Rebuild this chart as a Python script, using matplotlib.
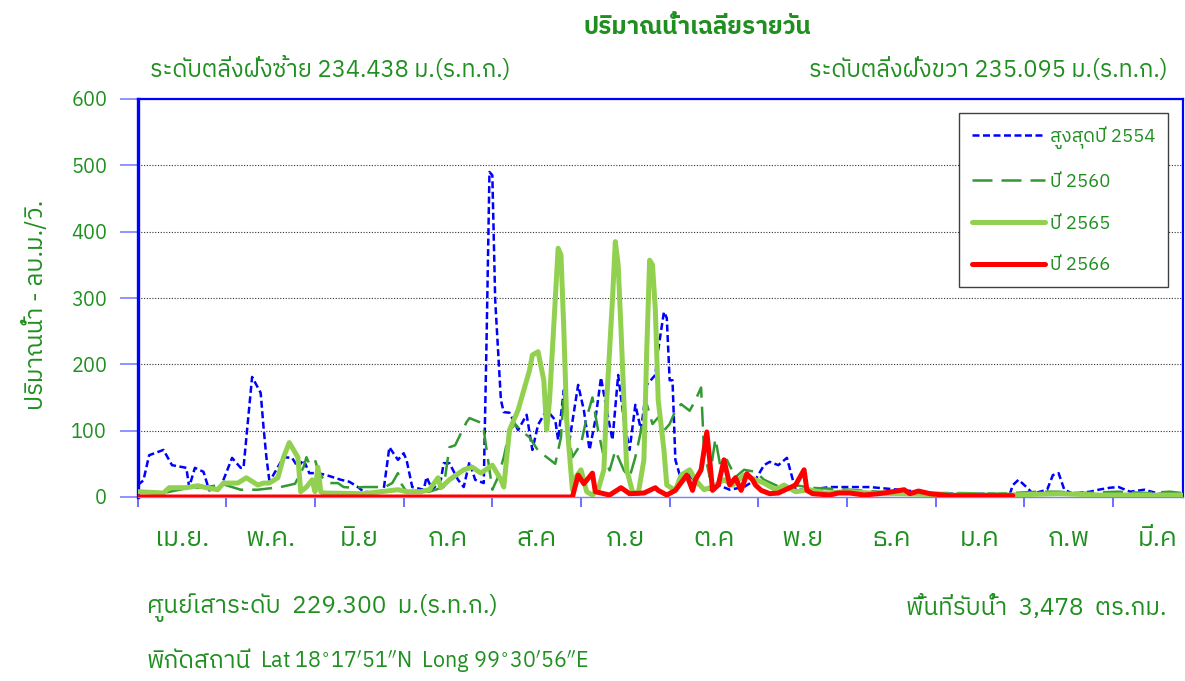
import numpy as np
import matplotlib
matplotlib.use("Agg")
import matplotlib.pyplot as plt
from matplotlib import font_manager
from matplotlib.ft2font import FT2Font

# Daily mean discharge (m3/s), day index counted from 1 April, 31 days per tick
MONTHS = ["เม.ย.", "พ.ค.", "มิ.ย", "ก.ค", "ส.ค", "ก.ย",
          "ต.ค", "พ.ย", "ธ.ค", "ม.ค", "ก.พ", "มี.ค"]

# สูงสุดปี 2554
max54_day = [0, 2, 4, 9, 12, 17, 18, 20, 23, 25, 29, 33, 36, 37, 40, 43, 44, 45,
             46, 47, 49, 51, 54, 56, 58, 60, 63, 66, 71, 74, 77, 79, 84, 86, 88,
             91, 93, 94, 96, 100, 101, 103, 106, 107, 109, 112, 114, 116, 118,
             121, 122, 123, 124, 125, 127, 128, 130, 133, 136, 138, 140, 143,
             146, 147, 149, 151, 154, 156, 158, 160, 162, 164, 166, 168, 170,
             172, 174, 176, 178, 181, 182, 184, 185, 186, 187, 188, 190, 193,
             196, 200, 203, 207, 212, 216, 219, 221, 224, 227, 230, 235, 242,
             247, 256, 266, 277, 287, 298, 305, 306, 308, 311, 313, 318, 320,
             322, 324, 327, 333, 336, 340, 343, 347, 352, 357, 365]
max54_val = [18, 25, 63, 71, 48, 44, 15, 44, 38, 10, 15, 59, 44, 44, 181, 157,
             105, 60, 26, 30, 45, 60, 59, 45, 56, 36, 36, 33, 26, 23, 15, 8, 6,
             11, 75, 56, 66, 56, 15, 11, 30, 11, 26, 51, 51, 26, 15, 53, 26, 21,
             240, 490, 485, 297, 146, 128, 127, 101, 124, 71, 109, 131, 116, 86,
             161, 86, 169, 131, 71, 116, 180, 131, 86, 184, 116, 71, 139, 101,
             169, 184, 222, 279, 270, 176, 176, 56, 26, 33, 18, 11, 18, 11, 15,
             26, 48, 53, 48, 59, 11, 11, 15, 15, 15, 11, 6, 5, 5, 5, 18, 26, 14,
             5, 11, 33, 36, 11, 5, 8, 11, 14, 15, 8, 11, 5, 3]

# ปี 2560
y60_day = [0, 9, 17, 24, 30, 36, 42, 50, 55, 58, 59, 60, 62, 63, 65, 67, 70,
           72, 75, 79, 84, 86, 89, 91, 92, 94, 102, 107, 108, 109, 111, 113, 115,
           116, 120, 121, 122, 124, 126, 128, 130, 132, 134, 137, 140, 143, 146,
           148, 149, 150, 152, 155, 157, 159, 161, 163, 165, 167, 170, 172, 174,
           176, 178, 180, 182, 184, 186, 188, 190, 193, 195, 197, 198, 200, 202,
           204, 206, 209, 212, 216, 219, 223, 227, 230, 235, 249, 259, 266, 287,
           301, 315, 322, 329, 343, 353, 361, 365]
y60_val = [7, 6, 13, 15, 19, 11, 11, 15, 20, 45, 60, 50, 56, 41, 26, 21, 21,
           15, 14, 15, 15, 14, 21, 36, 21, 8, 8, 15, 45, 75, 78, 96, 113, 119,
           112, 101, 71, 11, 30, 60, 100, 110, 100, 90, 70, 60, 50, 90, 160, 110,
           60, 80, 120, 150, 100, 60, 40, 70, 40, 30, 60, 100, 140, 110, 120,
           100, 110, 130, 140, 130, 146, 165, 71, 30, 88, 40, 56, 30, 41, 38, 26,
           18, 11, 18, 14, 11, 8, 6, 6, 5, 8, 8, 6, 8, 6, 8, 6]

# ปี 2565
y65_day = [0, 9, 11, 17, 21, 24, 28, 30, 35, 38, 42, 44, 46, 49, 51, 53, 56,
           57, 59, 61, 62, 63, 64, 65, 79, 91, 94, 99, 102, 105, 106, 109, 114,
           117, 120, 124, 127, 128, 130, 133, 135, 137, 138, 140, 142, 143, 144,
           146, 147, 148, 149, 150, 152, 153, 155, 157, 159, 161, 163, 164, 166,
           167, 168, 169, 170, 171, 173, 175, 177, 178, 179, 180, 181, 182, 184,
           185, 188, 190, 193, 195, 198, 201, 205, 208, 212, 216, 219, 223, 226,
           230, 235, 240, 249, 259, 266, 284, 305, 322, 336, 365]
y65_val = [8, 6, 14, 14, 17, 14, 11, 21, 21, 29, 18, 21, 21, 29, 60, 82, 60, 8,
           15, 26, 8, 45, 8, 6, 5, 11, 8, 8, 11, 29, 14, 26, 41, 45, 36, 48, 26,
           15, 101, 131, 161, 191, 214, 219, 176, 101, 146, 297, 375, 365, 252,
           116, 11, 29, 41, 8, 3, 11, 41, 146, 297, 385, 350, 252, 146, 41, 8,
           5, 56, 222, 357, 350, 282, 146, 71, 18, 10, 33, 41, 26, 11, 15, 26,
           18, 33, 26, 21, 11, 18, 8, 11, 6, 8, 5, 5, 3, 3, 5, 3, 3]

# ปี 2566
y66_day = [0, 152, 154, 156, 159, 160, 165, 169, 172, 177, 181, 182, 185, 188,
           192, 194, 195, 197, 199, 200, 201, 203, 205, 207, 209, 211, 213, 215,
           216, 218, 221, 224, 228, 230, 233, 234, 236, 242, 245, 249, 254, 259,
           264, 268, 270, 273, 277, 284, 306]
y66_val = [0, 0, 33, 20, 36, 8, 3, 14, 5, 6, 14, 10, 3, 10, 33, 10, 26, 41, 98,
           56, 10, 18, 56, 18, 29, 10, 35, 26, 18, 10, 5, 6, 14, 18, 41, 10, 5,
           3, 6, 6, 3, 5, 8, 11, 5, 9, 5, 2, 2]

TEXT_GREEN = "#1f8f1f"
W, H = 1185, 681


def thai_family():
    """Return an installed family that has Thai glyphs, or None."""
    found = []
    for f in font_manager.fontManager.ttflist:
        try:
            cmap = FT2Font(f.fname).get_charmap()
        except Exception:
            continue
        if 0x0E01 in cmap and 0x0E49 in cmap:
            found.append(f)
    if not found:
        return None
    found.sort(key=lambda f: (f.weight not in (400, "normal", "regular"),
                              f.style != "normal",
                              "Thai" not in f.name))
    return found[0].name


def draw():
    fam = thai_family()
    plt.rcParams["font.family"] = ([fam] if fam else []) + ["DejaVu Sans"]

    fig = plt.figure(figsize=(W / 100, H / 100), dpi=100)
    ax = fig.add_axes([137.7 / W, 1 - 497 / H, (1183 - 137.7) / W, 398 / H])

    ax.plot(max54_day, max54_val, color="#0000ff", lw=1.8,
            dashes=(2.8, 1.4), label="สูงสุดปี 2554", zorder=3)
    ax.plot(y60_day, y60_val, color="#339933", lw=1.8,
            dashes=(8, 3.6), label="ปี 2560", zorder=4)
    ax.plot(y65_day, y65_val, color="#92d050", lw=3.6,
            solid_capstyle="round", label="ปี 2565", zorder=5)
    ax.plot(y66_day, y66_val, color="#ff0000", lw=3.6,
            solid_capstyle="round", label="ปี 2566", zorder=6)

    ax.set_xlim(0, 365.5)
    ax.set_ylim(0, 600)
    ax.set_yticks(range(0, 601, 100))
    ax.tick_params(axis="y", direction="out", length=13, width=1.2,
                   color="#7f7fff", labelcolor=TEXT_GREEN, labelsize=14.3,
                   pad=9)

    month_edges = np.arange(0, 365, 31)
    ax.set_xticks(month_edges)
    ax.set_xticklabels([])
    ax.set_xticks(month_edges + 15.5, minor=True)
    ax.set_xticklabels(MONTHS, minor=True)
    ax.tick_params(axis="x", which="major", direction="out", length=7,
                   width=1.2, color="#5555ff")
    ax.tick_params(axis="x", which="minor", length=0, pad=21,
                   labelcolor=TEXT_GREEN, labelsize=19)

    ax.grid(axis="y", color="#333333", linestyle=(0, (1, 1.5)), lw=0.8)
    ax.set_axisbelow(True)

    for side, lw in (("left", 2.4), ("top", 1.6), ("right", 1.6)):
        ax.spines[side].set_color("#0000ff")
        ax.spines[side].set_linewidth(lw)
    ax.spines["bottom"].set_color("#7f7fff")
    ax.spines["bottom"].set_linewidth(1.0)

    leg = ax.legend(loc="upper right", bbox_to_anchor=(0.9857, 0.9648),
                    borderaxespad=0, fontsize=13.4, handlelength=3.9,
                    labelspacing=1.28, borderpad=0.7, handletextpad=0.25,
                    fancybox=False, edgecolor="#404040", framealpha=1)
    leg.get_frame().set_linewidth(1.0)
    for t in leg.get_texts():
        t.set_color(TEXT_GREEN)

    fig.text(697 / W, 1 - 28 / H, "ปริมาณน้ำเฉลี่ยรายวัน", ha="center",
             va="center", fontsize=17.5, fontweight="bold", color=TEXT_GREEN)
    fig.text(150 / W, 1 - 70 / H, "ระดับตลิ่งฝั่งซ้าย 234.438 ม.(ร.ท.ก.)",
             ha="left", va="center", fontsize=17, color=TEXT_GREEN)
    fig.text(1168 / W, 1 - 70 / H, "ระดับตลิ่งฝั่งขวา 235.095 ม.(ร.ท.ก.)",
             ha="right", va="center", fontsize=17, color=TEXT_GREEN)
    fig.text(35 / W, 1 - 305 / H, "ปริมาณน้ำ - ลบ.ม./วิ.", rotation=90,
             ha="center", va="center", fontsize=17.5, color=TEXT_GREEN)
    fig.text(147 / W, 1 - 608 / H, "ศูนย์เสาระดับ  229.300  ม.(ร.ท.ก.)",
             ha="left", va="center", fontsize=17.5, color=TEXT_GREEN)
    fig.text(1167 / W, 1 - 608 / H, "พื้นที่รับน้ำ  3,478  ตร.กม.",
             ha="right", va="center", fontsize=17.5, color=TEXT_GREEN)

    # station coordinates: Thai caption, then a tighter Latin part
    fig.text(147 / W, 1 - 662 / H, "พิกัดสถานี", ha="left", va="center",
             fontsize=17.5, color=TEXT_GREEN)
    fig.text(260 / W, 1 - 662 / H,
             r"Lat 18$^{\circ}$17$^{\prime}$51$^{\prime\prime}$N"
             r"  Long 99$^{\circ}$30$^{\prime}$56$^{\prime\prime}$E",
             ha="left", va="center", fontsize=15.5, color=TEXT_GREEN)

    fig.savefig("out.png", dpi=100)


def main():
    draw()


if __name__ == "__main__":
    main()
